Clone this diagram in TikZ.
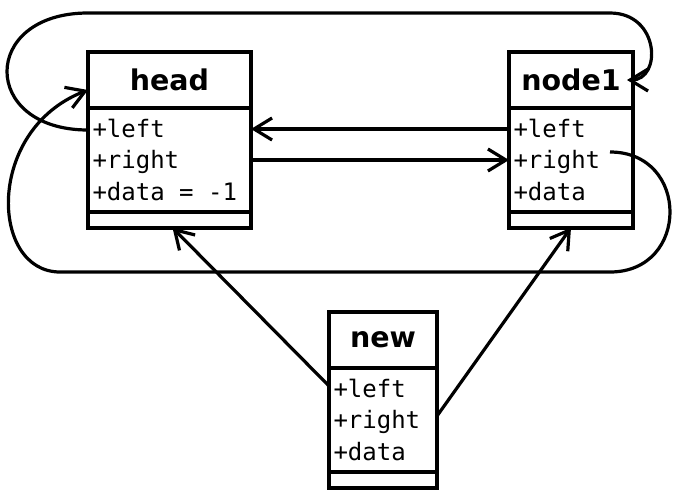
\documentclass[tikz,border=0pt]{standalone}
\usepackage{fontspec}
\setmainfont{DejaVu Sans}
\setmonofont{DejaVu Sans Mono}
\usetikzlibrary{positioning, arrows.meta}

\begin{document}
\begin{tikzpicture}[
        x=1pt, y=-1pt,
        node distance=0pt,
        >={Straight Barb[length=18pt, width=22pt]},
        line width=3.2pt,
        classname/.style={draw, line width=3.6pt, outer sep=0pt, minimum width=#1, minimum height=56pt, font=\fontsize{28.5}{30}\selectfont\bfseries},
        classattr/.style={draw, line width=3.6pt, outer sep=0pt, text width=#1, inner xsep=4.5pt, inner ysep=11pt, align=left, font=\fontsize{24}{31.5}\selectfont\ttfamily, execute at begin node={\spaceskip=0.602em\relax}},
        classops/.style={draw, line width=3.6pt, outer sep=0pt, minimum width=#1, minimum height=16pt}
    ]
        \useasboundingbox (0,0) rectangle (686,496);

        \node[classname=163pt, anchor=north west] (head) at (88,52) {head};
        \node[classattr=154pt, below=of head] (headattr) {+left\\+right\\+data = -1};
        \node[classops=163pt, below=of headattr] (headops) {};

        \node[classname=124pt, anchor=north west] (node1) at (509,52) {node1};
        \node[classattr=115pt, below=of node1] (node1attr) {+left\\+right\\+data};
        \node[classops=124pt, below=of node1attr] (node1ops) {};

        \node[classname=108pt, anchor=north west] (new) at (329,312) {new};
        \node[classattr=99pt, below=of new] (newattr) {+left\\+right\\+data};
        \node[classops=108pt, below=of newattr] (newops) {};

        \draw[->] ([yshift=-22pt]headattr.north west) .. controls (-20,130) and (-20,13) .. (88,13) -- (610,13) .. controls (660,13) and (662,80) .. ([xshift=-6pt]node1.east);
        \draw[->] ([xshift=-23pt, yshift=-44pt]node1attr.north east) .. controls (690,152) and (690,272) .. (610,272) -- (60,272) .. controls (-10,272) and (-15,130) .. ([yshift=-10pt]head.west);
        \draw[->] ([yshift=-21pt]node1attr.north west) -- ([yshift=-21pt]headattr.north east);
        \draw[->] ([yshift=-52pt]headattr.north east) -- ([yshift=-52pt]node1attr.north west);
        \draw[->] ([yshift=-18pt]newattr.north west) -- ([xshift=3pt]headops.south);
        \draw[->] ([yshift=-48pt]newattr.north east) -- (node1ops.south);
    \end{tikzpicture}
\end{document}
